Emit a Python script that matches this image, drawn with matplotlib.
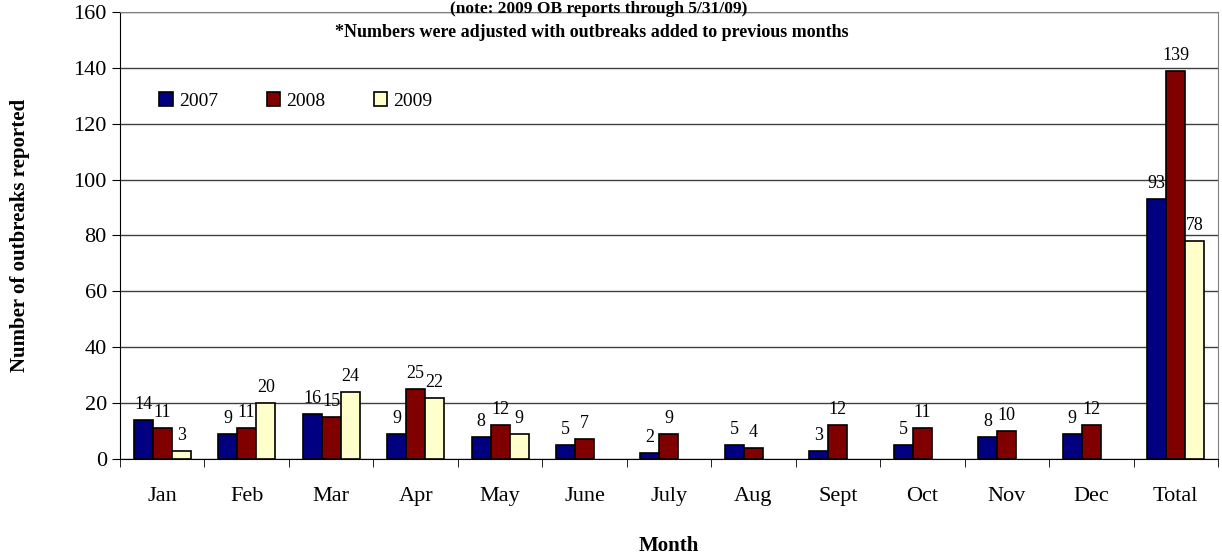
import numpy as np
import matplotlib
matplotlib.use("Agg")
import matplotlib.pyplot as plt

months = ["Jan", "Feb", "Mar", "Apr", "May", "June", "July", "Aug", "Sept", "Oct", "Nov", "Dec", "Total"]
y2007 = [14, 9, 16, 9, 8, 5, 2, 5, 3, 5, 8, 9, 93]
y2008 = [11, 11, 15, 25, 12, 7, 9, 4, 12, 11, 10, 12, 139]
y2009 = [3, 20, 24, 22, 9, None, None, None, None, None, None, None, 78]

plt.rcParams.update({"font.family": ["Liberation Serif", "DejaVu Serif"], "font.size": 12})
fig = plt.figure(figsize=(12.22, 5.56), dpi=100)
ax = fig.add_axes([0.0982, 0.1745, 0.8985, 0.804])

x = np.arange(len(months))
w = 0.225
series = [(y2007, "#000080", "2007"), (y2008, "#800000", "2008"), (y2009, "#FFFFCC", "2009")]
for i, (vals, col, lab) in enumerate(series):
    xs = [xi + (i - 1) * w for xi, v in zip(x, vals) if v is not None]
    vs = [v for v in vals if v is not None]
    ax.bar(xs, vs, width=w, color=col, edgecolor="black", lw=1.2, label=lab, zorder=3)
    for xi, v in zip(xs, vs):
        ax.text(xi, v + 2.5, str(v), ha="center", va="bottom", fontsize=13)

ax.set_xlim(-0.5, len(months) - 0.5)
ax.set_ylim(0, 160)
ax.set_yticks(range(0, 161, 20))
ax.tick_params(axis="y", labelsize=16, direction="out", length=6)
ax.set_xticks(x)
ax.set_xticklabels(months, fontsize=16)
ax.tick_params(axis="x", length=0, pad=20)
ax.set_xticks(np.arange(-0.5, len(months), 1), minor=True)
ax.tick_params(axis="x", which="minor", length=6, direction="out")
ax.grid(axis="y", color="#404040", lw=1, zorder=0)
for s in ["top", "right"]:
    ax.spines[s].set_color("#808080")
ax.spines["left"].set_color("black")
ax.spines["bottom"].set_color("black")

ax.set_ylabel("Number of outbreaks reported", fontsize=15, fontweight="bold", labelpad=31)
ax.set_xlabel("Month", fontsize=15, fontweight="bold", labelpad=22)
fig.text(0.49, 0.999, "(note: 2009 OB reports through 5/31/09)", ha="center", va="top",
         fontsize=12.5, fontweight="bold")
ax.text(0.43, 0.955, "*Numbers were adjusted with outbreaks added to previous months",
        transform=ax.transAxes, ha="center", va="center", fontsize=13, fontweight="bold")
ax.legend(loc="upper left", bbox_to_anchor=(0.02, 0.86), ncol=3, frameon=False, fontsize=14,
          handlelength=0.7, handleheight=0.7, columnspacing=2.5, handletextpad=0.3)

fig.savefig("out.png", dpi=100)
